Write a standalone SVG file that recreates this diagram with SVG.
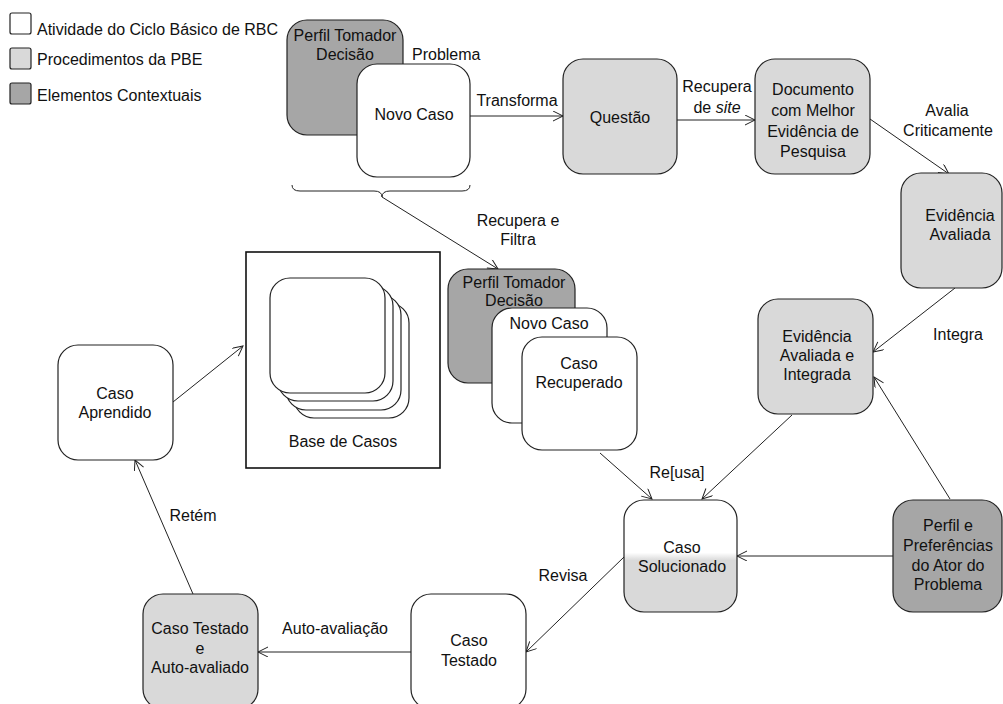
<svg xmlns="http://www.w3.org/2000/svg" width="1003" height="704" viewBox="0 0 1003 704">
<style>
text{font-family:"Liberation Sans",Arial,sans-serif;font-size:16px;fill:#111;}
.c{text-anchor:middle;}
.n{stroke:#222;stroke-width:1.2;}
.w{fill:#fff;}
.l{fill:#d9d9d9;}
.d{fill:#a6a6a6;}
.e{stroke:#222;stroke-width:1;fill:none;marker-end:url(#ah);}
</style>
<defs>
<marker id="ah" markerWidth="12" markerHeight="12" refX="11" refY="5" orient="auto" markerUnits="userSpaceOnUse">
<path d="M1,0 L11,5 L1,10" fill="none" stroke="#222" stroke-width="1"/>
</marker>
<linearGradient id="sol" x1="0" y1="0" x2="0" y2="1">
<stop offset="0.47" stop-color="#fff"/>
<stop offset="0.54" stop-color="#d9d9d9"/>
</linearGradient>
</defs>
<rect width="1003" height="704" fill="#fff"/>
<g id="legend">
<rect x="10" y="13" width="21" height="21" rx="2" class="n w"/>
<text x="37" y="35">Atividade do Ciclo Básico de RBC</text>
<rect x="10" y="48" width="21" height="21" rx="2" class="n l"/>
<text x="37" y="65">Procedimentos da PBE</text>
<rect x="10" y="83" width="21" height="21" rx="2" class="n d"/>
<text x="37" y="101">Elementos Contextuais</text>
</g>
<g id="edges">
<path class="e" d="M470,116 L563,116"/>
<path class="e" d="M677,120 L755,120"/>
<path class="e" d="M870,119 L949,174"/>
<path d="M292,185 Q292,191 300,191 L374,191 Q382,191 382,197 Q382,191 390,191 L462,191 Q470,191 470,185" fill="none" stroke="#222" stroke-width="1"/>
<path class="e" d="M382,197 L498,269"/>
<path class="e" d="M955,288 L873,352"/>
<path class="e" d="M950,499 L874,377"/>
<path class="e" d="M600,453 L652,499"/>
<path class="e" d="M792,415 L702,499"/>
<path class="e" d="M893,556 L737,556"/>
<path class="e" d="M624,557 L526,652"/>
<path class="e" d="M411,652 L258,652"/>
<path class="e" d="M193,594 L135,460"/>
<path class="e" d="M173,402 L243,346"/>
</g>
<g id="labels">
<text x="412" y="60">Problema</text>
<text x="517" y="106" class="c">Transforma</text>
<text x="717" y="92" class="c">Recupera</text>
<text x="717" y="113" class="c">de <tspan font-style="italic">site</tspan></text>
<text x="947" y="116" class="c">Avalia</text>
<text x="948" y="136" class="c">Criticamente</text>
<text x="518" y="226" class="c">Recupera e</text>
<text x="518" y="245" class="c">Filtra</text>
<text x="958" y="340" class="c">Integra</text>
<text x="677" y="478" class="c">Re[usa]</text>
<text x="563" y="581" class="c">Revisa</text>
<text x="335" y="634" class="c">Auto-avaliação</text>
<text x="193" y="521" class="c">Retém</text>
</g>
<g id="perfil-tomador-1">
<rect x="287" y="20" width="116" height="115" rx="20" class="n d"/>
<text x="345" y="41" class="c">Perfil Tomador</text>
<text x="345" y="60" class="c">Decisão</text>
</g>
<g id="novo-caso-1">
<rect x="357" y="64" width="113" height="113" rx="20" class="n w"/>
<text x="414" y="120" class="c">Novo Caso</text>
</g>
<g id="questao">
<rect x="563" y="59" width="114" height="115" rx="20" class="n l"/>
<text x="620" y="123" class="c">Questão</text>
</g>
<g id="documento">
<rect x="755" y="59" width="115" height="115" rx="20" class="n l"/>
<text x="813" y="95" class="c">Documento</text>
<text x="813" y="116" class="c">com Melhor</text>
<text x="813" y="137" class="c">Evidência de</text>
<text x="813" y="157" class="c">Pesquisa</text>
</g>
<g id="evidencia-avaliada">
<rect x="901" y="173" width="101" height="115" rx="20" class="n l"/>
<text x="960" y="221" class="c">Evidência</text>
<text x="960" y="240" class="c">Avaliada</text>
</g>
<g id="base-de-casos">
<rect x="246" y="252" width="194" height="216" fill="#fff" stroke="#111" stroke-width="1.6"/>
<rect x="294" y="303" width="115" height="115" rx="20" class="n w"/>
<rect x="286" y="295" width="115" height="115" rx="20" class="n w"/>
<rect x="278" y="286" width="115" height="115" rx="20" class="n w"/>
<rect x="270" y="278" width="115" height="115" rx="20" class="n w"/>
<text x="343" y="447" class="c">Base de Casos</text>
</g>
<g id="perfil-tomador-2">
<rect x="448" y="269" width="127" height="114" rx="20" class="n d"/>
<text x="514" y="288" class="c">Perfil Tomador</text>
<text x="514" y="306" class="c">Decisão</text>
</g>
<g id="novo-caso-2">
<rect x="492" y="308" width="115" height="115" rx="20" class="n w"/>
<text x="549" y="329" class="c">Novo Caso</text>
</g>
<g id="caso-recuperado">
<rect x="522" y="337" width="115" height="113" rx="20" class="n w"/>
<text x="579" y="369" class="c">Caso</text>
<text x="579" y="388" class="c">Recuperado</text>
</g>
<g id="caso-aprendido">
<rect x="58" y="345" width="115" height="115" rx="20" class="n w"/>
<text x="115" y="399" class="c">Caso</text>
<text x="115" y="418" class="c">Aprendido</text>
</g>
<g id="evidencia-integrada">
<rect x="758" y="299" width="115" height="115" rx="20" class="n l"/>
<text x="817" y="342" class="c">Evidência</text>
<text x="817" y="361" class="c">Avaliada e</text>
<text x="817" y="380" class="c">Integrada</text>
</g>
<g id="caso-solucionado">
<rect x="624" y="500" width="113" height="112" rx="20" class="n" fill="url(#sol)"/>
<text x="682" y="553" class="c">Caso</text>
<text x="682" y="572" class="c">Solucionado</text>
</g>
<g id="perfil-preferencias">
<rect x="893" y="500" width="109" height="112" rx="20" class="n d"/>
<text x="948" y="531" class="c">Perfil e</text>
<text x="948" y="551" class="c">Preferências</text>
<text x="948" y="571" class="c">do Ator do</text>
<text x="948" y="590" class="c">Problema</text>
</g>
<g id="caso-testado">
<rect x="411" y="594" width="115" height="115" rx="20" class="n w"/>
<text x="469" y="646" class="c">Caso</text>
<text x="469" y="666" class="c">Testado</text>
</g>
<g id="caso-testado-auto">
<rect x="143" y="594" width="115" height="115" rx="20" class="n l"/>
<text x="200" y="634" class="c">Caso Testado</text>
<text x="200" y="654" class="c">e</text>
<text x="200" y="673" class="c">Auto-avaliado</text>
</g>
</svg>
